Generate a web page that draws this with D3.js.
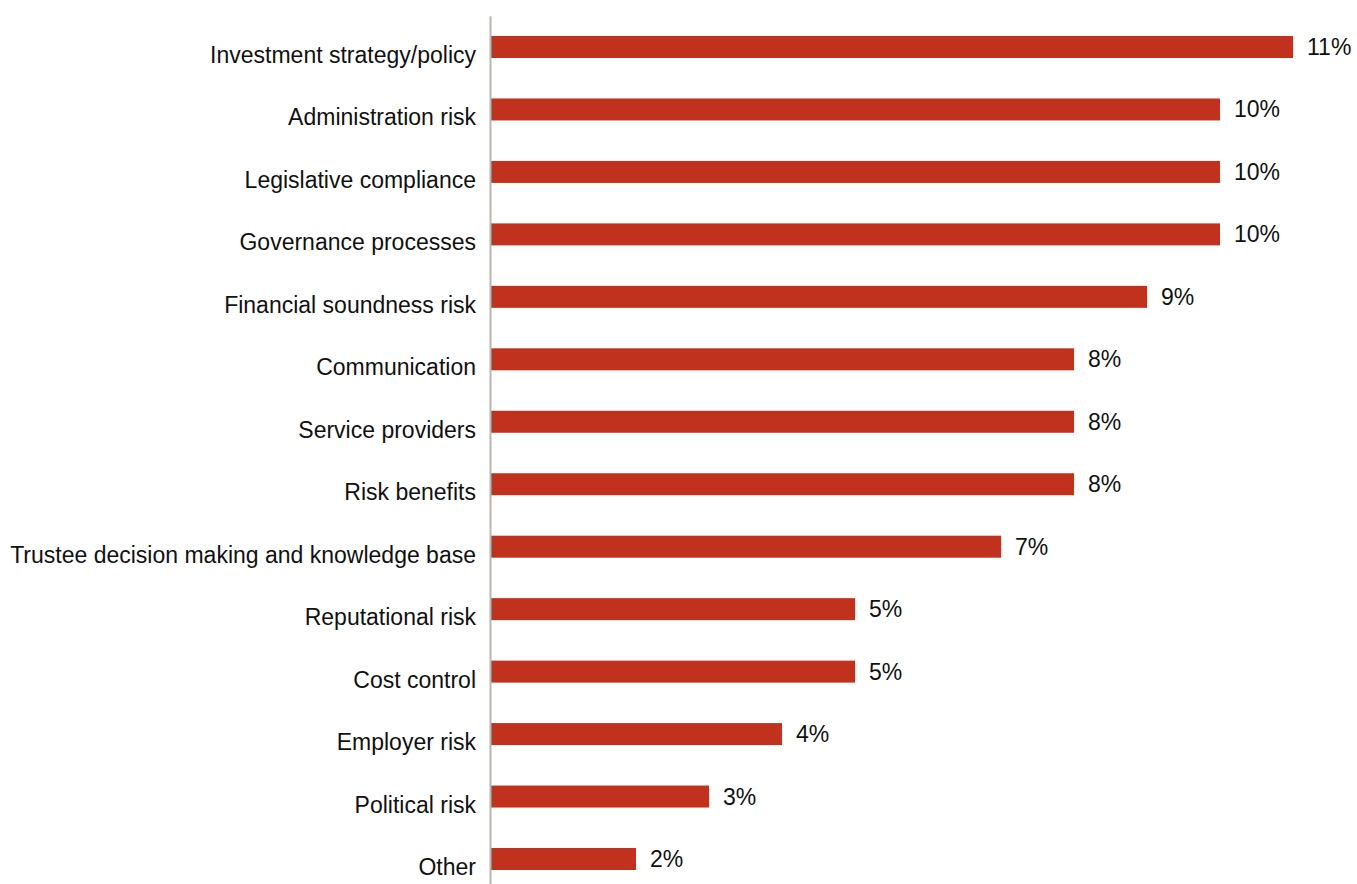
<!DOCTYPE html>
<html>
<head>
<meta charset="utf-8">
<script src="https://cdn.jsdelivr.net/npm/d3@7"></script>
<style>
  html, body { margin: 0; padding: 0; background: #ffffff; }
  svg { display: block; font-family: "Liberation Sans", Arial, Helvetica, sans-serif; }
</style>
</head>
<body>
<svg id="chart" width="1357" height="884"></svg>
<script>
// Risk areas and share of responses (%)
const categories = [
  "Investment strategy/policy",
  "Administration risk",
  "Legislative compliance",
  "Governance processes",
  "Financial soundness risk",
  "Communication",
  "Service providers",
  "Risk benefits",
  "Trustee decision making and knowledge base",
  "Reputational risk",
  "Cost control",
  "Employer risk",
  "Political risk",
  "Other"
];
const values = [11, 10, 10, 10, 9, 8, 8, 8, 7, 5, 5, 4, 3, 2];
const valueLabels = ["11%", "10%", "10%", "10%", "9%", "8%", "8%", "8%", "7%", "5%", "5%", "4%", "3%", "2%"];

const data = categories.map((c, i) => ({ category: c, value: values[i], label: valueLabels[i] }));

const svg = d3.select("#chart");

const axisX = 490;
const step = (859 - 47) / 13;
const fontSize = 23;

const x = d3.scaleLinear().domain([0, 11]).range([axisX, 1293]);
const y = d3.scaleBand()
  .domain(categories)
  .range([47 - step / 2, 859 + step / 2])
  .paddingInner(0.648)
  .paddingOuter(0.324);

// Bars
svg.append("g")
  .selectAll("rect")
  .data(data)
  .join("rect")
  .attr("x", x(0))
  .attr("y", d => y(d.category))
  .attr("width", d => x(d.value) - x(0))
  .attr("height", y.bandwidth())
  .attr("fill", "#c0311e");

// Value labels
svg.append("g")
  .selectAll("text")
  .data(data)
  .join("text")
  .attr("x", d => x(d.value) + 14)
  .attr("y", d => y(d.category) + y.bandwidth() / 2 + 8)
  .attr("font-size", fontSize)
  .attr("fill", "#111")
  .text(d => d.label);

// Category axis
const yAxis = svg.append("g")
  .attr("transform", `translate(${axisX},0)`)
  .call(d3.axisLeft(y).tickSize(0).tickPadding(14));

yAxis.select(".domain")
  .attr("stroke", "#bdb5ad")
  .attr("stroke-width", 2);

yAxis.selectAll(".tick text")
  .attr("font-size", fontSize)
  .attr("font-family", "'Liberation Sans', Arial, Helvetica, sans-serif")
  .attr("fill", "#111")
  .attr("dy", 16)
  .attr("y", 0);
</script>
</body>
</html>
